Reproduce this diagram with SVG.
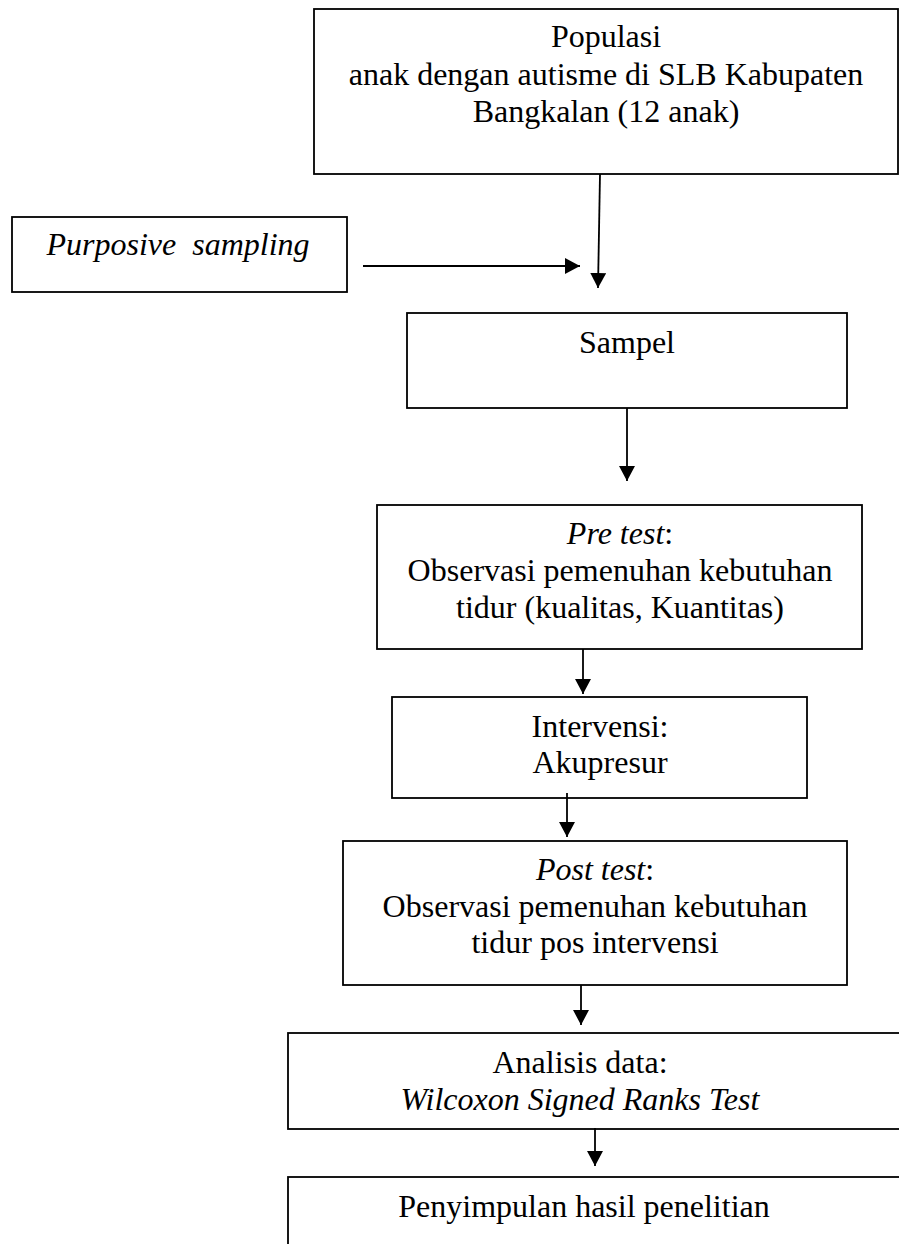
<svg xmlns="http://www.w3.org/2000/svg" width="899" height="1244" viewBox="0 0 899 1244">
<style>
.box{fill:#fff;stroke:#000;stroke-width:1.8}
.t{font-family:"Liberation Serif","Times New Roman",serif;font-size:32px;fill:#000;text-anchor:middle}
.i{font-style:italic}
.c{stroke:#000;stroke-width:1.8;fill:none;marker-end:url(#ah)}
</style>
<defs>
<marker id="ah" markerUnits="userSpaceOnUse" markerWidth="16" markerHeight="16" refX="15" refY="8" orient="auto" viewBox="0 0 16 16">
<path d="M0,0 L15,8 L0,16 z" fill="#000"/>
</marker>
</defs>
<rect width="899" height="1244" fill="#fff"/>
<g id="populasi">
<rect class="box" x="314" y="9" width="584" height="165"/>
<text class="t" x="606" y="47">Populasi</text>
<text class="t" x="606" y="85">anak dengan autisme di SLB Kabupaten</text>
<text class="t" x="606" y="122">Bangkalan (12 anak)</text>
</g>
<g id="purposive">
<rect class="box" x="12" y="217" width="335" height="75"/>
<text class="t i" x="178" y="255" xml:space="preserve">Purposive  sampling</text>
</g>
<g id="sampel">
<rect class="box" x="407" y="313" width="440" height="95"/>
<text class="t" x="627" y="353">Sampel</text>
</g>
<g id="pretest">
<rect class="box" x="377" y="505" width="485" height="144"/>
<text class="t" x="620" y="544"><tspan class="i">Pre test</tspan>:</text>
<text class="t" x="620" y="581">Observasi pemenuhan kebutuhan</text>
<text class="t" x="620" y="618">tidur (kualitas, Kuantitas)</text>
</g>
<g id="intervensi">
<rect class="box" x="392" y="697" width="415" height="101"/>
<text class="t" x="600" y="737">Intervensi:</text>
<text class="t" x="600" y="773">Akupresur</text>
</g>
<g id="posttest">
<rect class="box" x="343" y="841" width="504" height="144"/>
<text class="t" x="595" y="880"><tspan class="i">Post test</tspan>:</text>
<text class="t" x="595" y="917">Observasi pemenuhan kebutuhan</text>
<text class="t" x="595" y="953">tidur pos intervensi</text>
</g>
<g id="analisis">
<rect class="box" x="288" y="1033" width="640" height="96"/>
<text class="t" x="580" y="1073">Analisis data:</text>
<text class="t i" x="580" y="1110">Wilcoxon Signed Ranks Test</text>
</g>
<g id="penyimpulan">
<rect class="box" x="288" y="1177" width="640" height="100"/>
<text class="t" x="584" y="1217">Penyimpulan hasil penelitian</text>
</g>
<g id="connectors">
<line class="c" x1="600" y1="174" x2="598" y2="288"/>
<line class="c" x1="363" y1="266" x2="580" y2="266"/>
<line class="c" x1="627" y1="408" x2="627" y2="481"/>
<line class="c" x1="583" y1="649" x2="583" y2="694"/>
<line class="c" x1="567" y1="793" x2="567" y2="837"/>
<line class="c" x1="581" y1="985" x2="581" y2="1025"/>
<line class="c" x1="595" y1="1128" x2="595" y2="1166"/>
</g>
</svg>
